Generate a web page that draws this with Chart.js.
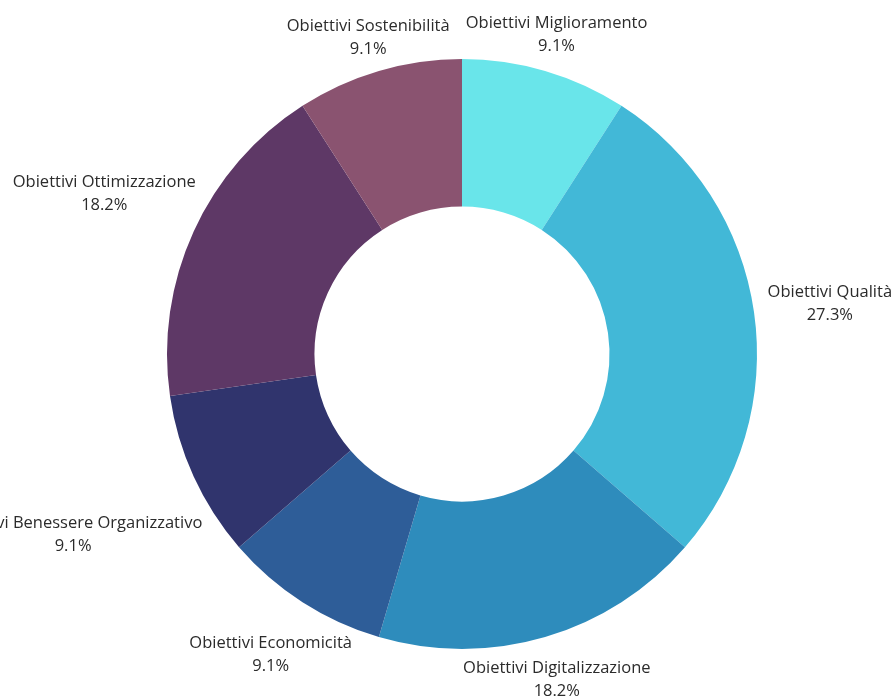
<!DOCTYPE html>
<html>
<head>
<meta charset="utf-8">
<script src="https://cdn.jsdelivr.net/npm/chart.js@4.4.1/dist/chart.umd.min.js"></script>
<style>
  html, body { margin: 0; padding: 0; background: #ffffff; }
  #wrap { width: 892px; height: 698px; }
</style>
</head>
<body>
<div id="wrap"><canvas id="graf" width="892" height="698"></canvas></div>
<script>
// dati del grafico
const categorie = [
    "Obiettivi Miglioramento",
    "Obiettivi Qualità",
    "Obiettivi Digitalizzazione",
    "Obiettivi Economicità",
    "Obiettivi Benessere Organizzativo",
    "Obiettivi Ottimizzazione",
    "Obiettivi Sostenibilità"
];
const percentuali = [9.1, 27.3, 18.2, 9.1, 9.1, 18.2, 9.1];
const colori = ["#69e5ea", "#42b8d7", "#2e8cbc", "#2e5d98", "#30346d", "#5e3866", "#8a5370"];

// etichette esterne: nome + percentuale, centrate sul raggio della fetta
const etichetteEsterne = {
    id: "etichetteEsterne",
    afterDatasetsDraw(chart) {
        const ctx = chart.ctx;
        const meta = chart.getDatasetMeta(0);
        ctx.save();
        ctx.font = "16.5px 'Open Sans'";
        ctx.fillStyle = "#2b2b2b";
        ctx.textAlign = "center";
        ctx.textBaseline = "middle";
        meta.data.forEach(function(arc, i) {
            const p = arc.getProps(["x", "y", "startAngle", "endAngle", "outerRadius"], true);
            const a = (p.startAngle + p.endAngle) / 2;
            const w = ctx.measureText(categorie[i]).width;
            const d = p.outerRadius + 15 + Math.abs(Math.cos(a)) * w / 2;
            const cx = p.x + Math.cos(a) * d;
            const cy = p.y + Math.sin(a) * d + 3;
            ctx.fillText(categorie[i], cx, cy - 11.5);
            ctx.fillText(percentuali[i].toFixed(1) + "%", cx, cy + 11.5);
        });
        ctx.restore();
    }
};

window.addEventListener("DOMContentLoaded", function() {
    const ctx = document.getElementById("graf").getContext("2d");
    new Chart(ctx, {
        type: "doughnut",
        data: {
            labels: categorie,
            datasets: [{
                data: percentuali,
                backgroundColor: colori,
                borderWidth: 0
            }]
        },
        options: {
            responsive: false,
            animation: false,
            cutout: "50%",
            layout: { padding: { top: 59, bottom: 49, left: 167, right: 135 } },
            plugins: {
                legend: { display: false },
                tooltip: { enabled: false }
            }
        },
        plugins: [etichetteEsterne]
    });
});
</script>
</body>
</html>
